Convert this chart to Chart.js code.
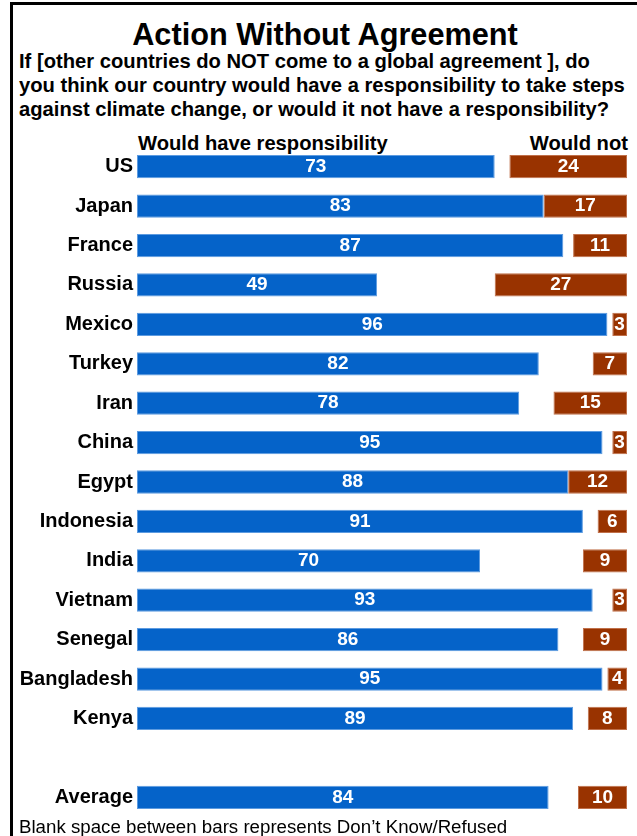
<!DOCTYPE html>
<html>
<head>
<meta charset="utf-8">
<script src="https://cdn.jsdelivr.net/npm/chart.js@4"></script>
<style>
  body { margin: 0; background: #fff; font-family: "Liberation Sans", Arial, sans-serif; }
  #page { position: relative; width: 637px; height: 836px; overflow: hidden; }
  .frame-top { position: absolute; left: 10px; top: 2px; width: 627px; height: 3px; background: #000; }
  .frame-left { position: absolute; left: 10px; top: 2px; width: 3px; height: 834px; background: #000; }
  .title { position: absolute; left: 13px; width: 624px; top: 17px; text-align: center; font-weight: bold; font-size: 30.7px; color: #000; }
  .sub { position: absolute; left: 19px; top: 49px; font-weight: bold; font-size: 20.2px; line-height: 24px; color: #000; white-space: nowrap; }
  .head { position: absolute; top: 132px; font-weight: bold; font-size: 20.2px; color: #000; white-space: nowrap; }
  .foot { position: absolute; left: 19px; top: 816px; font-size: 18.7px; color: #000; white-space: nowrap; }
  #wrap { position: absolute; left: 0; top: 131px; width: 632px; height: 702px; }
</style>
</head>
<body>
<div id="page">
  <div class="frame-top"></div>
  <div class="frame-left"></div>
  <div class="title">Action Without Agreement</div>
  <div class="sub">If [other countries do NOT come to a global agreement ], do<br>you think our country would have a responsibility to take steps<br>against climate change, or would it not have a responsibility?</div>
  <div class="head" style="left:138px">Would have responsibility</div>
  <div class="head" style="right:9px">Would not</div>
  <div id="wrap"><canvas id="chart"></canvas></div>
  <div class="foot">Blank space between bars represents Don’t Know/Refused</div>
</div>
<script>
const countries = ["US", "Japan", "France", "Russia", "Mexico", "Turkey", "Iran", "China", "Egypt",
  "Indonesia", "India", "Vietnam", "Senegal", "Bangladesh", "Kenya", "", "Average"];
const wouldHave = [73, 83, 87, 49, 96, 82, 78, 95, 88, 91, 70, 93, 86, 95, 89, null, 84];
const wouldNot = [24, 17, 11, 27, 3, 7, 15, 3, 12, 6, 9, 3, 9, 4, 8, null, 10];

// whatever is left over (don't know / refused) sits between the two bars
const blank = wouldHave.map((v, i) => (v === null ? null : 100 - v - wouldNot[i]));

const barLabels = {
  id: "barLabels",
  afterDatasetsDraw(chart) {
    const ctx = chart.ctx;
    ctx.save();
    ctx.fillStyle = "#fff";
    ctx.font = "bold 19px 'Liberation Sans', Arial, sans-serif";
    ctx.textAlign = "center";
    ctx.textBaseline = "middle";
    [0, 2].forEach((di) => {
      const ds = chart.data.datasets[di];
      chart.getDatasetMeta(di).data.forEach((bar, i) => {
        if (ds.data[i] === null) return;
        const x = (bar.x + bar.base) / 2;
        ctx.fillText(String(ds.data[i]), x, bar.y);
      });
    });
    ctx.restore();
  },
};

new Chart(document.getElementById("chart"), {
  type: "bar",
  data: {
    labels: countries,
    datasets: [
      {
        label: "Would have responsibility",
        data: wouldHave,
        backgroundColor: "#0563c9",
        borderColor: "#5d9be0",
        borderWidth: 1,
        borderSkipped: false,
      },
      {
        label: "Don't know",
        data: blank,
        backgroundColor: "rgba(0,0,0,0)",
      },
      {
        label: "Would not",
        data: wouldNot,
        backgroundColor: "#993300",
        borderColor: "#c0704a",
        borderWidth: 1,
        borderSkipped: false,
      },
    ],
  },
  options: {
    indexAxis: "y",
    responsive: true,
    maintainAspectRatio: false,
    animation: false,
    layout: { padding: { left: 0, right: 5, top: 0, bottom: 0 } },
    datasets: { bar: { categoryPercentage: 1, barPercentage: 0.59 } },
    plugins: { legend: { display: false }, tooltip: { enabled: false } },
    scales: {
      x: { stacked: true, min: 0, max: 100, display: false },
      y: {
        stacked: true,
        grid: { display: false, drawTicks: false },
        border: { display: false },
        afterFit: (scale) => { scale.width = 137; },
        ticks: {
          color: "#000",
          padding: 4,
          font: { family: "'Liberation Sans', Arial, sans-serif", size: 20, weight: "bold" },
        },
      },
    },
  },
  plugins: [barLabels],
});
</script>
</body>
</html>
